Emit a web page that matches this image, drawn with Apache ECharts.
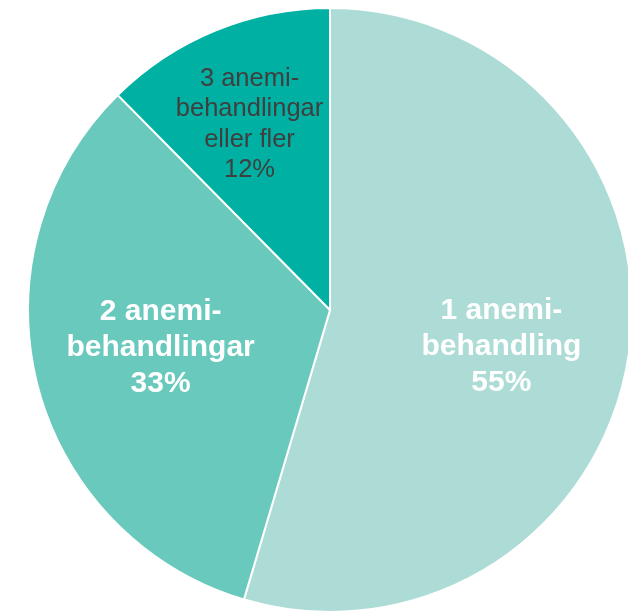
<!DOCTYPE html>
<html lang="sv">
<head>
<meta charset="UTF-8">
<title>Anemibehandlingar</title>
<script src="https://cdn.jsdelivr.net/npm/echarts@6/dist/echarts.min.js"></script>
<style>
  html, body { margin: 0; padding: 0; background: #fff; }
  #chart { width: 628px; height: 613px; }
</style>
</head>
<body>
<div id="chart"></div>
<script>
// data
const categories = ['1 anemi-\nbehandling', '2 anemi-\nbehandlingar', '3 anemi-\nbehandlingar\neller fler'];
const values = [54.6, 33.0, 12.4];
const percentLabels = ['55%', '33%', '12%'];

const colors = ['#addcd6', '#6ac9bd', '#00b1a3'];
// label nudges so text sits where it does in the original
const labelOffsets = [[19, 15], [-20, 0], [-22, -43]];

let myEchart = echarts.init(document.querySelector('#chart'));

let pieData = categories.map((name, i) => ({
    name: name,
    value: values[i],
    itemStyle: { color: colors[i] },
    label: i === 2
        ? { color: '#3f3f3f', fontWeight: 'normal', fontSize: 25.5, lineHeight: 30.5, offset: labelOffsets[i] }
        : { color: '#ffffff', fontWeight: 'bold', fontSize: 30, lineHeight: 36, offset: labelOffsets[i] }
}));

let option = {
    animation: false,
    series: [{
        type: 'pie',
        center: [330, 310],
        radius: [0, 302],
        startAngle: 90,
        clockwise: true,
        itemStyle: {
            borderColor: '#ffffff',
            borderWidth: 2
        },
        label: {
            show: true,
            position: 'inside',
            fontFamily: 'Liberation Sans, Arial, sans-serif',
            align: 'center',
            formatter: function (p) {
                return p.name + '\n' + percentLabels[p.dataIndex];
            }
        },
        labelLine: { show: false },
        emphasis: { disabled: true },
        data: pieData
    }]
};
myEchart.setOption(option);
</script>
</body>
</html>
